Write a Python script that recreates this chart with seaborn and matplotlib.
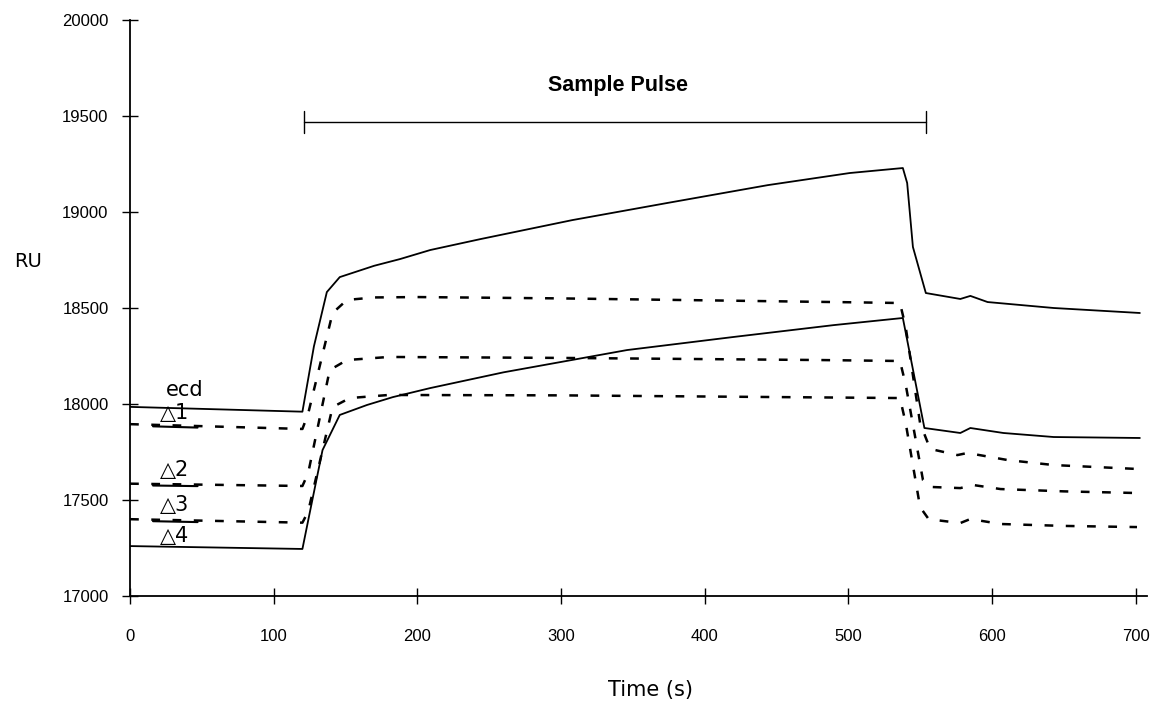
import numpy as np
import pandas as pd
import matplotlib
matplotlib.use("Agg")
import matplotlib.pyplot as plt
import seaborn as sns

# Données (temps en s, réponse en RU)
ecd_t = [0, 120, 128, 137, 146, 170, 188, 209, 244, 308, 374, 444, 501, 538, 541, 545, 554, 578, 585, 597, 643, 703]
ecd_ru = [17985, 17960, 18300, 18583, 18661, 18720, 18755, 18802, 18859, 18958, 19047, 19140, 19203, 19229,
          19151, 18818, 18578, 18547, 18563, 18531, 18500, 18474]

d1_t = [0, 120, 124, 141, 151, 170, 200, 300, 400, 500, 536, 540, 550, 557, 576, 583, 611, 643, 703]
d1_ru = [17895, 17870, 17950, 18474, 18542, 18555, 18557, 18550, 18540, 18530, 18526, 18400, 17900,
         17766, 17734, 17745, 17708, 17682, 17661]

d2_t = [0, 120, 124, 139, 151, 180, 300, 480, 536, 540, 552, 557, 578, 587, 606, 650, 703]
d2_ru = [17585, 17573, 17640, 18177, 18229, 18245, 18240, 18229, 18224, 18100, 17604, 17568, 17562,
         17578, 17557, 17545, 17536]

d3_t = [0, 120, 124, 141, 153, 180, 300, 536, 540, 550, 556, 578, 585, 606, 650, 701]
d3_ru = [17400, 17382, 17440, 17984, 18031, 18047, 18045, 18031, 17900, 17463, 17400, 17380, 17401,
         17375, 17365, 17359]

d4_t = [0, 120, 125, 134, 146, 165, 183, 209, 260, 346, 420, 490, 538, 553, 578, 585, 608, 643, 703]
d4_ru = [17260, 17245, 17430, 17760, 17943, 17995, 18036, 18083, 18165, 18281, 18349, 18411, 18448,
         17875, 17849, 17875, 17849, 17828, 17823]

pulse_start = 121
pulse_end = 554
pulse_level = 19469

x_ticks = [0, 100, 200, 300, 400, 500, 600, 700]
y_ticks = [17000, 17500, 18000, 18500, 19000, 19500, 20000]

series = [
    ("ecd", ecd_t, ecd_ru, "solid"),
    ("△1", d1_t, d1_ru, "dashed"),
    ("△2", d2_t, d2_ru, "dashed"),
    ("△3", d3_t, d3_ru, "dashed"),
    ("△4", d4_t, d4_ru, "solid"),
]

sns.set_style("ticks")
plt.rcParams["font.family"] = ["Liberation Sans", "DejaVu Sans"]
plt.rcParams["text.color"] = "black"
plt.rcParams["xtick.color"] = "black"
plt.rcParams["ytick.color"] = "black"
plt.rcParams["axes.edgecolor"] = "black"

fig = plt.figure(figsize=(11.57, 7.02), dpi=100)
ax = fig.add_axes([0.1124, 0.151, 0.879, 0.8205])

for name, t, ru, style in series:
    df = pd.DataFrame({"Time": t, "RU": ru})
    if style == "solid":
        sns.lineplot(data=df, x="Time", y="RU", ax=ax, color="black", lw=1.3,
                     estimator=None, sort=False)
    else:
        line = sns.lineplot(data=df, x="Time", y="RU", ax=ax, color="black", lw=1.8,
                            estimator=None, sort=False)
        line.lines[-1].set_dashes((3.5, 5))

# étiquettes des courbes
label_pos = {"ecd": (38, 18073), "△1": (31, 17953), "△2": (31, 17656),
             "△3": (31, 17474), "△4": (31, 17312)}
for name, t, ru, style in series:
    lx, ly = label_pos[name]
    ax.text(lx, ly, name, ha="center", va="center", fontsize=15, color="black",
            family=["DejaVu Sans", "Noto Sans CJK SC"])
    if name in ("△1", "△2", "△3"):
        seg_x = np.array([16, 47])
        ax.plot(seg_x, np.interp(seg_x, t, ru) - 8, color="black", lw=1.5)

# barre "Sample Pulse"
ax.plot([pulse_start, pulse_end], [pulse_level, pulse_level], color="black", lw=1.0)
for xp in (pulse_start, pulse_end):
    ax.plot([xp, xp], [pulse_level - 55, pulse_level + 55], color="black", lw=1.0)
ax.text((pulse_start + pulse_end) / 2 + 2, 19661, "Sample Pulse", ha="center", va="center",
        fontsize=15.5, fontweight="bold")

ax.set_xlim(0, 708)
ax.set_ylim(17000, 20000)
ax.set_xticks(x_ticks)
ax.set_yticks(y_ticks)
ax.tick_params(axis="both", direction="inout", length=11, width=1.0, labelsize=12)
ax.tick_params(axis="y", pad=10)
ax.tick_params(axis="x", pad=18)
sns.despine(ax=ax)
for sp in ("left", "bottom"):
    ax.spines[sp].set_linewidth(1.3)

ax.set_xlabel("")
ax.set_ylabel("")
fig.text(650 / 1157, 1 - 690 / 702, "Time (s)", ha="center", va="center", fontsize=15,
         family=["DejaVu Sans"])
fig.text(28 / 1157, 1 - 262 / 702, "RU", ha="center", va="center", fontsize=14,
         family=["DejaVu Sans"])

plt.savefig("out.png", dpi=100)
